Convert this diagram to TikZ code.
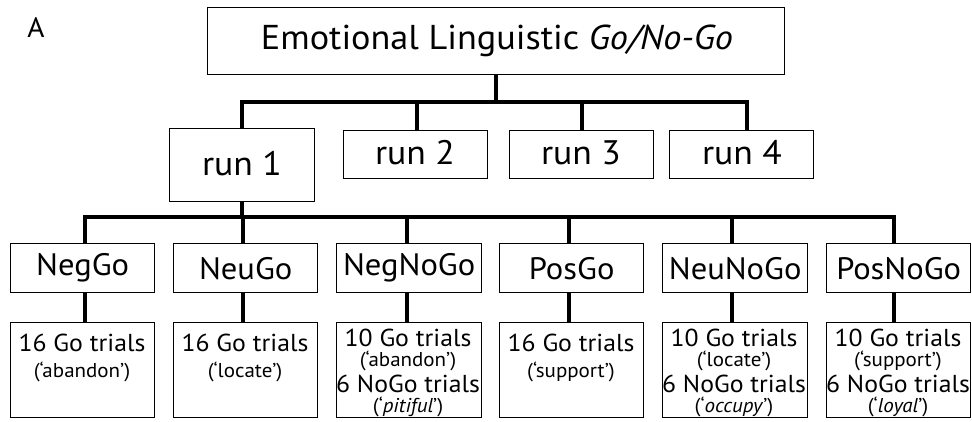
\documentclass[tikz,border=0pt]{standalone}
\usepackage{fontspec}
\setmainfont{PT Sans}[FakeStretch=1.05]
\tikzset{
  x=1pt,y=-1pt,
  bx/.style={draw=black,line width=1.4pt,fill=white,inner sep=0pt},
  conn/.style={draw=black,line width=4pt,line cap=butt},
  txt/.style={inner sep=0pt},
  big/.style={txt,font=\fontsize{34.5}{36}\selectfont},
  runf/.style={txt,font=\fontsize{34}{36}\selectfont},
  mid/.style={txt,font=\fontsize{31}{33}\selectfont},
  ln/.style={txt,font=\fontsize{24.5}{26}\selectfont},
  sm/.style={txt,font=\fontsize{20}{22}\selectfont},
}
\newcommand{\boxat}[5]{\node[bx,minimum width=#4-#2,minimum height=#5-#3,anchor=north west] (#1) at (#2,#3) {};}
\begin{document}
\begin{tikzpicture}
\useasboundingbox (0,0) rectangle (972,421);
\coordinate (bar1) at (495,102);
\coordinate (bar2) at (494,217);
% top level
\boxat{title}{207}{7}{784}{74}
\boxat{runA}{169}{128}{314}{201}
\boxat{runB}{343}{130}{487}{178}
\boxat{runC}{509}{130}{653}{178}
\boxat{runD}{669}{130}{813}{178}
\draw[conn] (title.south) -- (title.south |- bar1);
\draw[conn] (runA.north) -- (runA.north |- bar1) -| ([xshift=5pt]runD.north);
\draw[conn] ([xshift=1pt]runB.north) -- ([xshift=1pt]runB.north |- bar1);
\draw[conn] (runC.north) -- (runC.north |- bar1);
\node[big] (titletxt) at (497,41) {Emotional Linguistic \textit{Go/No-Go}};
\node[runf] (runAtxt) at (242,164) {run 1};
\node[runf] (runBtxt) at (415,153) {run 2};
\node[runf] (runCtxt) at (581,153) {run 3};
\node[runf] (runDtxt) at (742,153) {run 4};
\node[txt,font=\fontsize{28}{30}\selectfont] (lblA) at (36,28) {A};
% category boxes
\boxat{cA}{10}{243}{154}{292}
\boxat{cB}{173}{243}{317}{292}
\boxat{cC}{336}{243}{481}{292}
\boxat{cD}{499}{243}{643}{292}
\boxat{cE}{662}{243}{807}{292}
\boxat{cF}{826}{243}{970}{292}
\boxat{dA}{10}{322}{154}{417}
\boxat{dB}{173}{322}{317}{417}
\boxat{dC}{336}{322}{481}{417}
\boxat{dD}{499}{322}{643}{417}
\boxat{dE}{662}{322}{807}{417}
\boxat{dF}{826}{322}{970}{417}
\draw[conn] (runA.south) -- (runA.south |- bar2);
\draw[conn] ([xshift=2pt]cA.north) -- ([xshift=2pt]cA.north |- bar2) -| ([xshift=-5pt]cF.north);
\draw[conn] ([xshift=-3pt]cB.north) -- ([xshift=-3pt]cB.north |- bar2);
\draw[conn] ([xshift=-2pt]cC.north) -- ([xshift=-2pt]cC.north |- bar2);
\draw[conn] ([xshift=-3pt]cD.north) -- ([xshift=-3pt]cD.north |- bar2);
\draw[conn] ([xshift=-3pt]cE.north) -- ([xshift=-3pt]cE.north |- bar2);
\draw[conn] ([xshift=2pt]cA.south) -- ([xshift=2pt]dA.north);
\draw[conn] ([xshift=-3pt]cB.south) -- ([xshift=-3pt]dB.north);
\draw[conn] ([xshift=-2pt]cC.south) -- ([xshift=-2pt]dC.north);
\draw[conn] ([xshift=-3pt]cD.south) -- ([xshift=-3pt]dD.north);
\draw[conn] ([xshift=-3pt]cE.south) -- ([xshift=-3pt]dE.north);
\draw[conn] ([xshift=-5pt]cF.south) -- ([xshift=-5pt]dF.north);
% category labels
\node[mid] (tA) at (cA) {NegGo};
\node[mid] (tB) at (cB) {NeuGo};
\node[mid] (tC) at (cC) {NegNoGo};
\node[mid] (tD) at (cD) {PosGo};
\node[mid] (tE) at (cE) {NeuNoGo};
\node[mid] (tF) at (cF) {PosNoGo};
% single boxes
\node[ln] (uA1) at (82,343) {16 Go trials};
\node[sm] (uA2) at (82,372) {(‘abandon’)};
\node[ln] (uB1) at (245,343) {16 Go trials};
\node[sm] (uB2) at (245,372) {(‘locate’)};
\node[ln] (uD1) at (571,343) {16 Go trials};
\node[sm] (uD2) at (571,372) {(‘support’)};
% double boxes
\node[ln] (uC1) at (408,338) {10 Go trials};
\node[sm] (uC2) at (408,361) {(‘abandon’)};
\node[ln] (uC3) at (408,384) {6 NoGo trials};
\node[sm] (uC4) at (408,406.5) {(‘\textit{pitiful}’)};
\node[ln] (uE1) at (734,338) {10 Go trials};
\node[sm] (uE2) at (734,361) {(‘locate’)};
\node[ln] (uE3) at (734,384) {6 NoGo trials};
\node[sm] (uE4) at (734,406.5) {(‘\textit{occupy}’)};
\node[ln] (uF1) at (898,338) {10 Go trials};
\node[sm] (uF2) at (898,361) {(‘support’)};
\node[ln] (uF3) at (898,384) {6 NoGo trials};
\node[sm] (uF4) at (898,406.5) {(‘\textit{loyal}’)};
\end{tikzpicture}
\end{document}
